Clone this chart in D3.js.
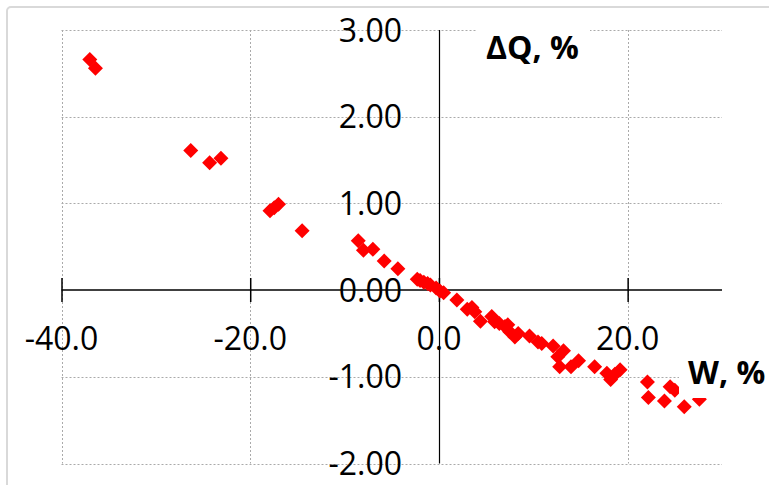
<!DOCTYPE html>
<html><head><meta charset="utf-8">
<script src="https://cdn.jsdelivr.net/npm/d3@7"></script>
<style>html,body{margin:0;padding:0;background:#fff;overflow:hidden}</style>
</head><body>
<svg id="c" width="769" height="485"></svg>
<script>
// Data (W, % ; ΔQ, %)
const wValues = [-37.0,-36.4,-26.3,-24.3,-23.1,-17.9,-17.45,-17.0,-14.5,
  -8.55,-8.0,-7.0,-5.8,-4.35,-2.3,-2.0,-1.6,-1.2,-0.9,-0.3,0.1,0.5,
  1.9,3.0,3.5,3.8,4.4,5.6,5.9,6.4,7.0,7.3,7.5,8.05,8.4,9.6,10.5,10.9,
  12.1,12.6,12.8,13.2,14.0,14.8,16.5,17.8,18.2,18.65,19.2,
  22.1,22.2,23.9,24.5,25.0,26.0,27.6];
const dqValues = [2.66,2.56,1.61,1.47,1.52,0.915,0.95,0.99,0.685,
  0.57,0.46,0.47,0.335,0.245,0.125,0.11,0.09,0.075,0.06,0.025,-0.01,-0.03,
  -0.115,-0.22,-0.2,-0.25,-0.36,-0.305,-0.365,-0.385,-0.42,-0.40,-0.48,-0.54,-0.50,-0.53,-0.60,-0.615,
  -0.646,-0.77,-0.885,-0.70,-0.885,-0.815,-0.885,-0.96,-1.03,-0.97,-0.92,
  -1.06,-1.24,-1.28,-1.115,-1.155,-1.345,-1.26];
const xTicks = [-40,-20,0,20];
const yTicks = [-2,-1,0,1,2,3];
const xTitle = "W, %";
const yTitle = "\u0394Q, %";

const svg = d3.select("#c");
const x = d3.scaleLinear().domain([-40,30]).range([61.5,722]);
const y = d3.scaleLinear().domain([-2,3]).range([463.5,30]);
const FONT = "'Open Sans', 'Liberation Sans', sans-serif";
const hy = s => s.replace("\u2212","-");

// outer border
svg.append("rect").attr("x",7).attr("y",7).attr("width",800).attr("height",520)
  .attr("rx",4).attr("fill","#fff").attr("stroke","#d9d9d9").attr("stroke-width",2);

// gridlines
const grid = svg.append("g").attr("stroke","#aaaaaa").attr("stroke-width",1).attr("stroke-dasharray","2,2");
grid.selectAll("line.h").data(yTicks.filter(d=>d!==0)).enter().append("line")
  .attr("x1",x(-40)).attr("x2",x(30)).attr("y1",d=>Math.round(y(d))+0.5).attr("y2",d=>Math.round(y(d))+0.5);
grid.selectAll("line.v").data(xTicks.filter(d=>d!==0)).enter().append("line")
  .attr("y1",y(3)).attr("y2",y(-2)).attr("x1",d=>Math.round(x(d))+0.5).attr("x2",d=>Math.round(x(d))+0.5);

// vertical axis (at x=0)
svg.append("line").attr("x1",Math.round(x(0))+0.5).attr("x2",Math.round(x(0))+0.5)
  .attr("y1",y(3)).attr("y2",y(-2)).attr("stroke","#000").attr("stroke-width",1.2);

// horizontal axis with cross ticks
const xAxis = d3.axisBottom(x).tickValues(xTicks).tickSize(0).tickFormat("");
const gx = svg.append("g").attr("transform",`translate(0,${Math.round(y(0))})`).call(xAxis);
gx.select(".domain").attr("stroke","#000").attr("stroke-width",1.5).attr("d",`M${x(-40)},0H${x(30)}`);
gx.selectAll(".tick").append("line").attr("y1",-12).attr("y2",12).attr("stroke","#000").attr("stroke-width",1.5);

// points
const diamond = "M0,-7.5L7.5,0L0,7.5L-7.5,0Z";
svg.append("g").selectAll("path").data(wValues.map((w,i)=>[w,dqValues[i]])).enter().append("path")
  .attr("d",diamond).attr("fill","#ff0000")
  .attr("transform",d=>`translate(${x(d[0])},${y(d[1])})`);

// tick labels
svg.append("g").selectAll("text").data(yTicks).enter().append("text")
  .attr("x",402).attr("y",d=>y(d)+11.5).attr("text-anchor","end")
  .attr("font-family",FONT).attr("font-size",32).attr("fill","#000")
  .text(d=>hy(d3.format(".2f")(d)));
svg.append("g").selectAll("text").data(xTicks).enter().append("text")
  .attr("x",d=>x(d)).attr("y",350).attr("text-anchor","middle")
  .attr("font-family",FONT).attr("font-size",32).attr("fill","#000")
  .text(d=>hy(d3.format(".1f")(d)));

// axis titles with white boxes
svg.append("rect").attr("x",477).attr("y",24).attr("width",113).attr("height",46).attr("fill","#fff");
svg.append("text").attr("x",486).attr("y",59).attr("font-family",FONT).attr("font-weight","bold")
  .attr("font-size",32).attr("fill","#000").text(yTitle);
svg.append("rect").attr("x",679).attr("y",352).attr("width",90).attr("height",46).attr("fill","#fff");
svg.append("text").attr("x",688).attr("y",384).attr("font-family",FONT).attr("font-weight","bold")
  .attr("font-size",32).attr("fill","#000").text(xTitle);
</script>
</body></html>
